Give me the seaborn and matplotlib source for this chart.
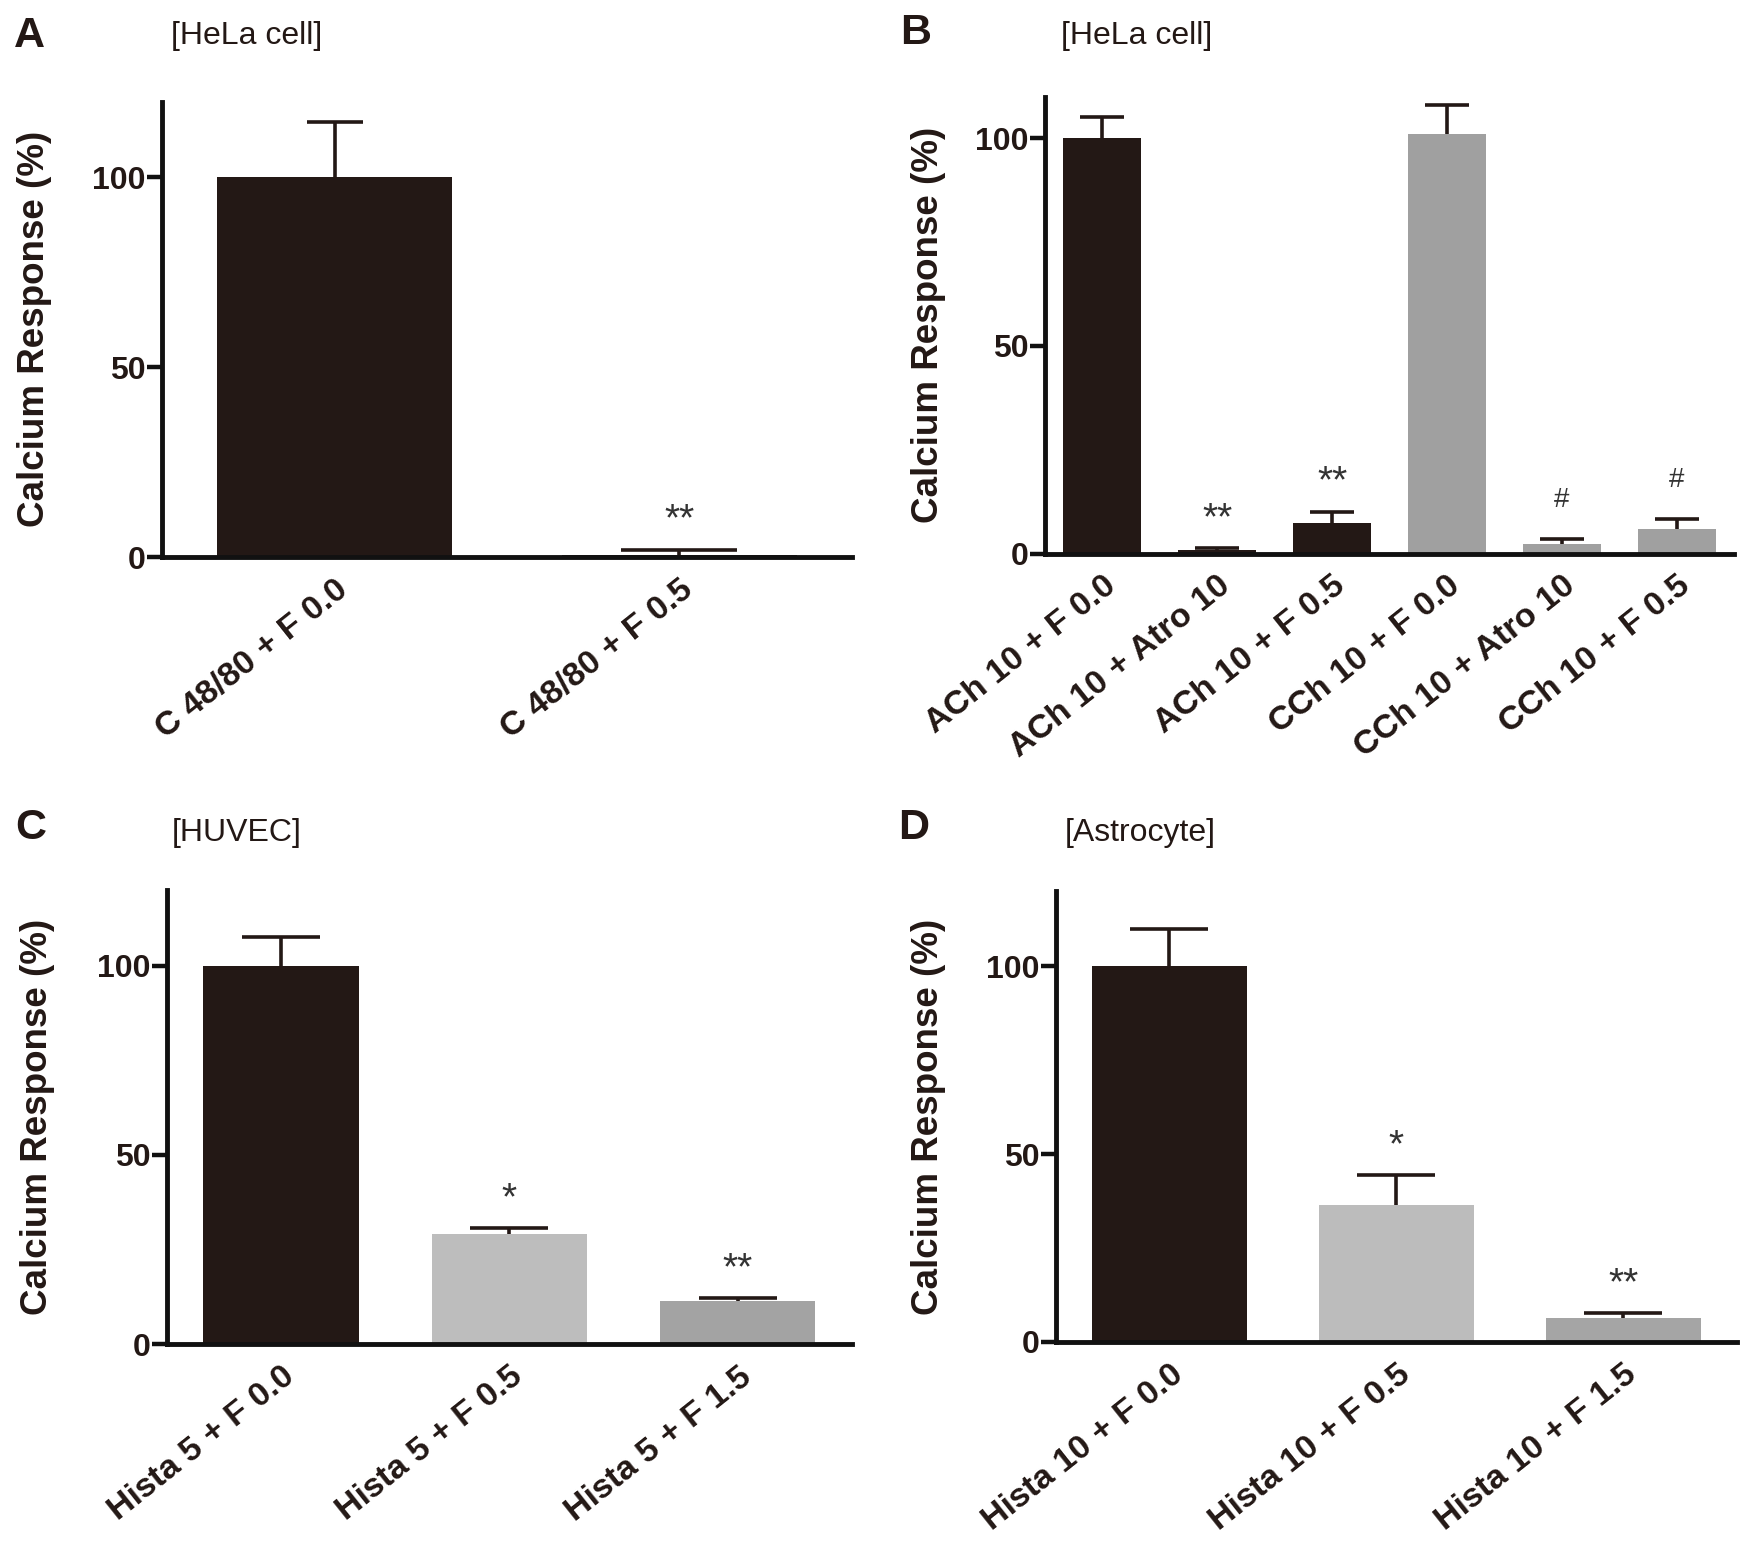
import numpy as np
import pandas as pd
import matplotlib
matplotlib.use("Agg")
import matplotlib.pyplot as plt
import seaborn as sns

# ---------------- data ----------------
A_cats = ["C 48/80 + F 0.0", "C 48/80 + F 0.5"]
A_vals = [100.0, 0.5]
A_errs = [14.6, 1.4]
A_marks = ["", "**"]

B_cats = ["ACh 10 + F 0.0", "ACh 10 + Atro 10", "ACh 10 + F 0.5",
          "CCh 10 + F 0.0", "CCh 10 + Atro 10", "CCh 10 + F 0.5"]
B_vals = [100.0, 0.8, 7.4, 101.0, 2.4, 6.0]
B_errs = [5.1, 0.5, 2.6, 7.0, 1.2, 2.3]
B_marks = ["", "**", "**", "", "#", "#"]

C_cats = ["Hista 5 + F 0.0", "Hista 5 + F 0.5", "Hista 5 + F 1.5"]
C_vals = [100.0, 29.2, 11.4]
C_errs = [7.5, 1.5, 0.8]
C_marks = ["", "*", "**"]

D_cats = ["Hista 10 + F 0.0", "Hista 10 + F 0.5", "Hista 10 + F 1.5"]
D_vals = [100.0, 36.4, 6.3]
D_errs = [9.9, 7.9, 1.3]
D_marks = ["", "*", "**"]

y_ticks = [0, 50, 100]
y_label = "Calcium Response (%)"

# ---------------- style ----------------
sns.set_style("ticks")
plt.rcParams["font.family"] = ["Liberation Sans", "DejaVu Sans"]
INK = "#231815"
BLACK = "#231815"

panels = [
    dict(letter="A", title="[HeLa cell]", cats=A_cats, vals=A_vals, errs=A_errs, marks=A_marks,
         colors=[BLACK, BLACK], rect=[0.0927, 0.6406, 0.3947, 0.2939], ylim=(0, 120),
         caps=[20.5, 42], ylx=-0.159, letter_xy=(0.008, 0.977), title_xy=(0.098, 0.977)),
    dict(letter="B", title="[HeLa cell]", cats=B_cats, vals=B_vals, errs=B_errs, marks=B_marks,
         colors=[BLACK, BLACK, BLACK, "#a0a0a0", "#a0a0a0", "#a0a0a0"],
         rect=[0.5978, 0.6429, 0.3942, 0.2948], ylim=(0, 110),
         caps=[16] * 6, ylx=-0.144, letter_xy=(0.515, 0.979), title_xy=(0.607, 0.977)),
    dict(letter="C", title="[HUVEC]", cats=C_cats, vals=C_vals, errs=C_errs, marks=C_marks,
         colors=[BLACK, "#bdbdbd", "#a3a3a3"], rect=[0.0955, 0.1327, 0.3919, 0.2932], ylim=(0, 120),
         caps=[28] * 3, ylx=-0.163, letter_xy=(0.009, 0.466), title_xy=(0.098, 0.4626)),
    dict(letter="D", title="[Astrocyte]", cats=D_cats, vals=D_vals, errs=D_errs, marks=D_marks,
         colors=[BLACK, "#bcbcbc", "#a5a5a5"], rect=[0.6041, 0.1343, 0.3896, 0.2907], ylim=(0, 120),
         caps=[28] * 3, ylx=-0.162, letter_xy=(0.514, 0.466), title_xy=(0.609, 0.4626)),
]

fig = plt.figure(figsize=(17.48, 15.5), dpi=100)

for p in panels:
    ax = fig.add_axes(p["rect"])
    df = pd.DataFrame({"cat": p["cats"], "val": p["vals"]})
    pal = dict(zip(p["cats"], p["colors"]))
    sns.barplot(data=df, x="cat", y="val", hue="cat", palette=pal, legend=False,
                errorbar=None, width=0.68, linewidth=0, saturation=1, ax=ax, zorder=2)
    xs = np.arange(len(p["cats"]))
    for x, v, e, c in zip(xs, p["vals"], p["errs"], p["caps"]):
        cont = ax.errorbar([x], [v], yerr=[[0], [e]], fmt="none", ecolor=INK,
                           elinewidth=2.6, capsize=c, capthick=2.6, zorder=3)
        caplines = cont.lines[1]
        for cl in caplines:
            if np.allclose(cl.get_ydata(), v):
                cl.set_visible(False)
    for x, v, e, m in zip(xs, p["vals"], p["errs"], p["marks"]):
        if m:
            is_star = "*" in m
            ax.annotate(m, (x, v + e), xytext=(0, 21 if is_star else 28),
                        textcoords="offset points", ha="center", va="center",
                        fontsize=28 if is_star else 20, color="#333333")
    ax.set_xlim(-0.5, len(p["cats"]) - 0.5)
    ax.set_ylim(*p["ylim"])
    ax.set_yticks(y_ticks)
    ax.set_yticklabels([str(t) for t in y_ticks], fontsize=23, fontweight="bold", color=INK)
    ax.set_xticks(xs)
    ax.set_xticklabels(p["cats"], fontsize=24.5, fontweight="bold", color=INK)
    for lbl in ax.get_xticklabels():
        lbl.set_rotation(38.5)
        lbl.set_ha("right")
        lbl.set_va("top")
        lbl.set_rotation_mode("anchor")
    ax.tick_params(axis="x", length=0, pad=12)
    ax.tick_params(axis="y", length=11, width=3.2, pad=1, color="#111111")
    ax.set_xlabel("")
    ax.set_ylabel(y_label, fontsize=26.5, fontweight="bold", color=INK)
    ax.yaxis.set_label_coords(p["ylx"], 0.5)
    for s in ["top", "right"]:
        ax.spines[s].set_visible(False)
    for s in ["left", "bottom"]:
        ax.spines[s].set_linewidth(3.5)
        ax.spines[s].set_color("#111111")
    fig.text(p["letter_xy"][0], p["letter_xy"][1], p["letter"], fontsize=31,
             fontweight="bold", ha="left", va="center", color=INK)
    fig.text(p["title_xy"][0], p["title_xy"][1], p["title"], fontsize=23,
             ha="left", va="center", color=INK)

fig.savefig("out.png", dpi=100)
